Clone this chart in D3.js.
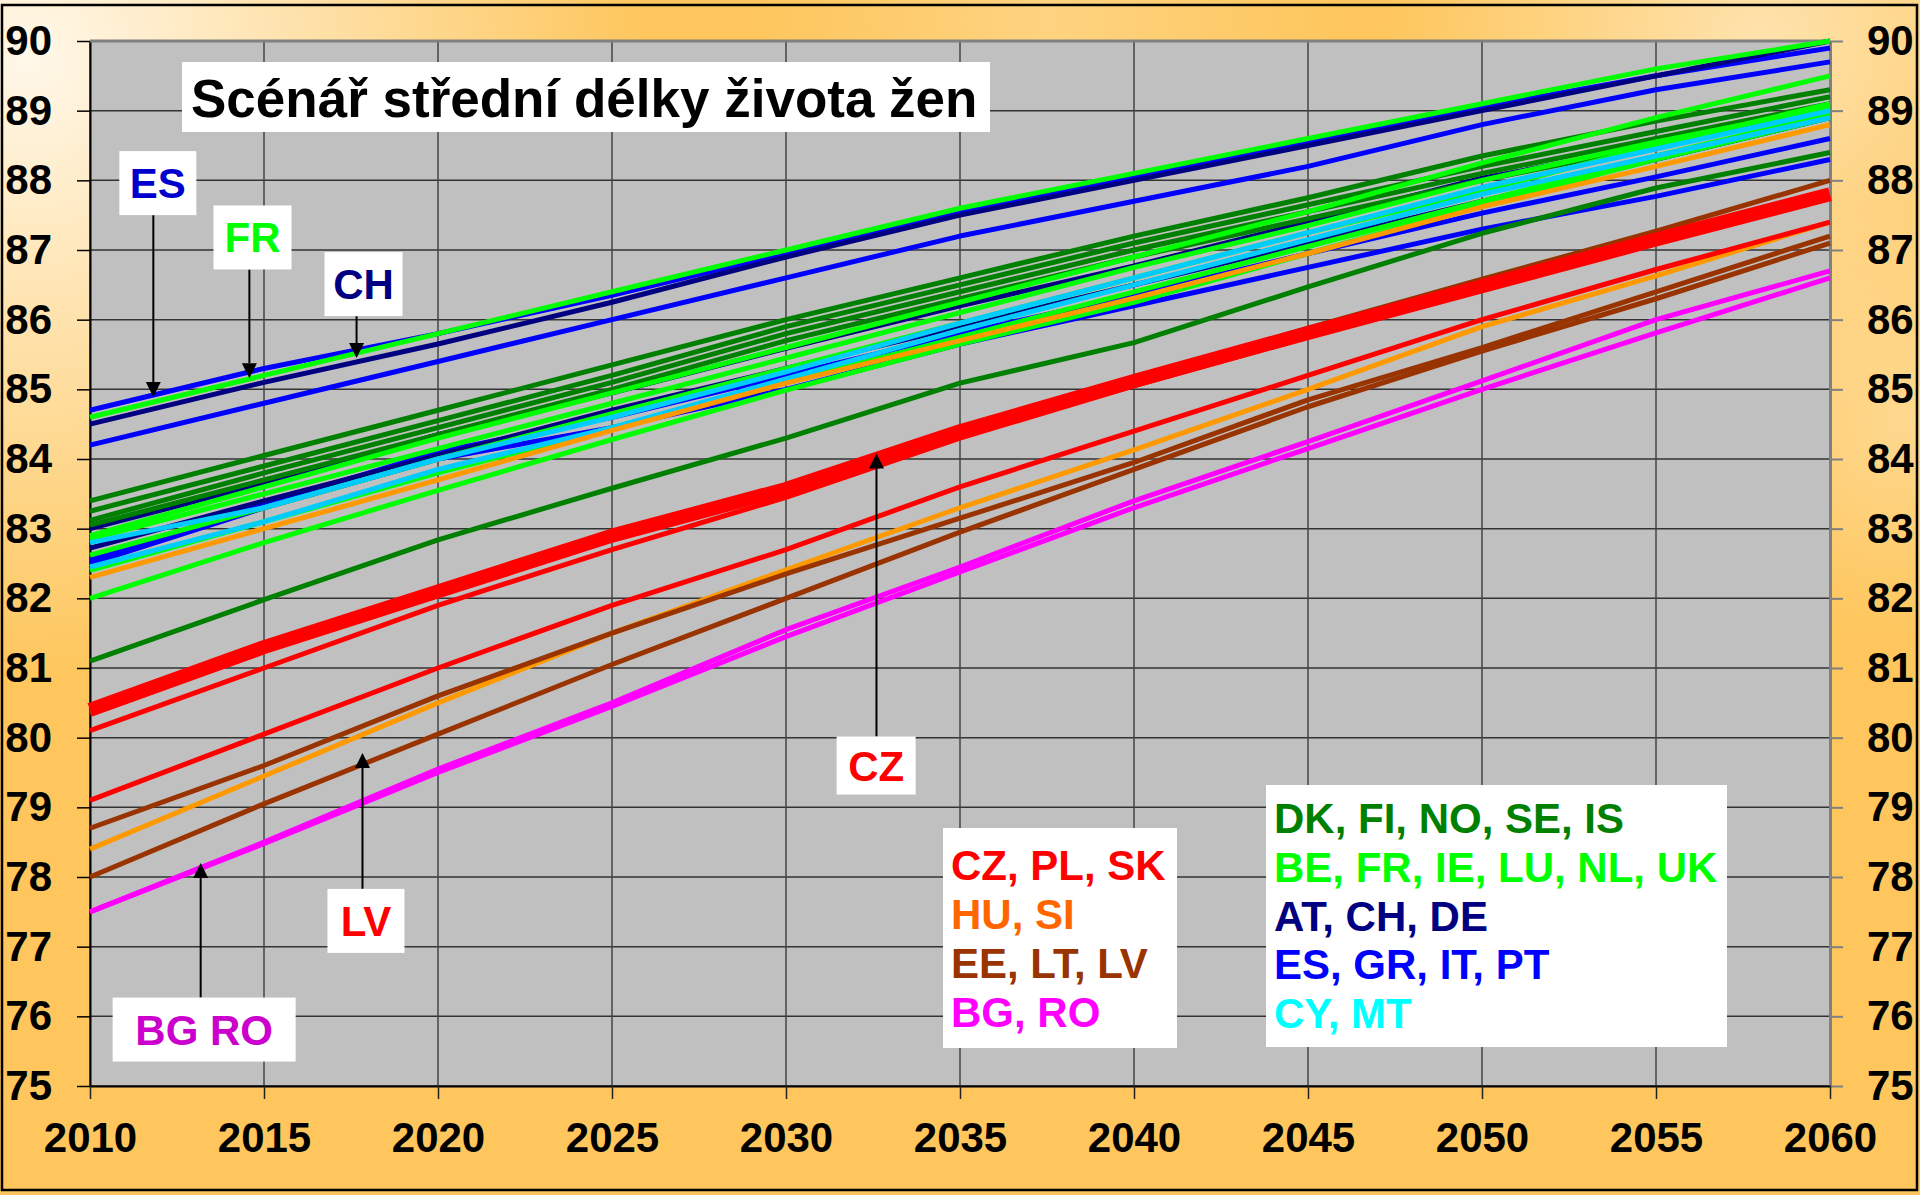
<!DOCTYPE html>
<html>
<head>
<meta charset="utf-8">
<script src="https://cdn.jsdelivr.net/npm/d3@7"></script>
<style>
    body { margin: 0; background: #fec860; }
    svg { display: block; }
    text { font-family: "Liberation Sans", Arial, sans-serif; font-weight: bold; }
</style>
</head>
<body>
<svg id="chartNode"></svg>
<script>

const years = [2010, 2015, 2020, 2025, 2030, 2035, 2040, 2045, 2050, 2055, 2060];

// DK, FI, NO, SE, IS
const nordic = [
    [83.4, 84.05, 84.7, 85.35, 86.0, 86.6, 87.2, 87.75, 88.35, 88.85, 89.3],
    [83.25, 83.9, 84.55, 85.2, 85.9, 86.5, 87.1, 87.65, 88.2, 88.7, 89.2],
    [83.12, 83.8, 84.45, 85.1, 85.8, 86.4, 87.0, 87.55, 88.1, 88.6, 89.1],
    [83.05, 83.7, 84.35, 85.0, 85.7, 86.3, 86.9, 87.45, 88.0, 88.5, 89.0],
    [81.1, 81.98, 82.84, 83.58, 84.3, 85.09, 85.67, 86.47, 87.24, 87.89, 88.4]
];
// BE, FR, IE, LU, NL, UK
const western = [
    [84.6, 85.2, 85.8, 86.4, 87.0, 87.6, 88.1, 88.6, 89.1, 89.6, 90.0],
    [82.9, 83.6, 84.3, 84.95, 85.6, 86.25, 86.9, 87.55, 88.25, 88.9, 89.5],
    [82.85, 83.5, 84.15, 84.8, 85.45, 86.1, 86.75, 87.35, 88.0, 88.55, 89.05],
    [82.62, 83.3, 84.0, 84.65, 85.3, 85.95, 86.6, 87.25, 87.85, 88.5, 89.1],
    [82.4, 83.1, 83.8, 84.45, 85.1, 85.75, 86.4, 87.05, 87.7, 88.35, 88.95],
    [82.0, 82.8, 83.55, 84.28, 84.99, 85.65, 86.25, 86.95, 87.65, 88.3, 88.9]
];
// AT, CH, DE
const alpine = [
    [84.5, 85.1, 85.65, 86.25, 86.9, 87.5, 88.0, 88.5, 89.0, 89.5, 90.0],
    [83.0, 83.65, 84.35, 84.95, 85.59, 86.2, 86.77, 87.4, 88.03, 88.5, 89.05],
    [82.72, 83.4, 84.05, 84.7, 85.3, 85.9, 86.5, 87.1, 87.7, 88.3, 88.9]
];
// ES, GR, IT, PT
const southern = [
    [84.7, 85.3, 85.8, 86.35, 86.95, 87.55, 88.05, 88.55, 89.05, 89.5, 89.9],
    [84.2, 84.8, 85.4, 86.0, 86.6, 87.2, 87.7, 88.2, 88.8, 89.3, 89.7],
    [82.55, 83.35, 84.1, 84.6, 85.2, 85.8, 86.35, 86.95, 87.53, 88.05, 88.6],
    [82.5, 83.3, 84.0, 84.45, 85.0, 85.65, 86.2, 86.75, 87.3, 87.77, 88.3]
];
// CY, MT
const islands = [
    [82.8, 83.3, 84.0, 84.6, 85.25, 85.95, 86.6, 87.25, 87.9, 88.45, 89.0],
    [82.45, 83.1, 83.85, 84.45, 85.15, 85.85, 86.5, 87.15, 87.8, 88.35, 88.9]
];
// HU, SI
const orangeGroup = [
    [82.3, 83.0, 83.7, 84.41, 85.09, 85.7, 86.31, 86.95, 87.62, 88.2, 88.8],
    [78.4, 79.45, 80.5, 81.5, 82.41, 83.3, 84.13, 85.0, 85.9, 86.63, 87.4]
];
// BG, RO
const bgro = [
    [77.5, 78.5, 79.55, 80.5, 81.55, 82.45, 83.4, 84.25, 85.12, 86.0, 86.7],
    [77.5, 78.48, 79.5, 80.45, 81.45, 82.38, 83.3, 84.15, 85.0, 85.81, 86.6]
];
// EE, LT, LV
const baltic = [
    [80.35, 81.25, 82.05, 82.85, 83.55, 84.4, 85.15, 85.88, 86.58, 87.27, 88.0],
    [78.7, 79.6, 80.6, 81.5, 82.35, 83.15, 83.95, 84.85, 85.6, 86.4, 87.2],
    [78.0, 79.05, 80.05, 81.05, 82.0, 82.95, 83.85, 84.75, 85.55, 86.3, 87.1]
];
// PL, SK (thin) and CZ (thick)
const visegrad = [
    [80.1, 81.0, 81.9, 82.7, 83.45, 84.3, 85.05, 85.75, 86.45, 87.1, 87.75],
    [79.1, 80.05, 81.0, 81.9, 82.7, 83.6, 84.4, 85.2, 86.0, 86.72, 87.4]
];
const czech = [80.4, 81.3, 82.1, 82.9, 83.57, 84.4, 85.12, 85.81, 86.48, 87.15, 87.8];

const yTicks = [75, 76, 77, 78, 79, 80, 81, 82, 83, 84, 85, 86, 87, 88, 89, 90];

// draw order: later groups on top
let groups = [
    { rows: southern, color: '#0000ff', w: 5 },
    { rows: alpine, color: '#000080', w: 5 },
    { rows: nordic, color: '#008000', w: 5 },
    { rows: western, color: '#00ff00', w: 5 },
    { rows: islands, color: '#00ccff', w: 5 },
    { rows: orangeGroup, color: '#ff9900', w: 5 },
    { rows: bgro, color: '#ff00ff', w: 5 },
    { rows: baltic, color: '#993300', w: 5 },
    { rows: visegrad, color: '#ff0000', w: 5 },
    { rows: [czech], color: '#ff0000', w: 14 }
];

const callouts = [
    { text: 'ES', color: '#0000cc', year: 2011.95, value: 87.96, bw: 77, bh: 64, arrowYear: 2011.82, tip: 84.89 },
    { text: 'FR', color: '#00ff00', year: 2014.67, value: 87.18, bw: 78, bh: 64, arrowYear: 2014.58, tip: 85.16 },
    { text: 'CH', color: '#000080', year: 2017.86, value: 86.51, bw: 78, bh: 64, arrowYear: 2017.66, tip: 85.45 },
    { text: 'CZ', color: '#ff0000', year: 2032.59, value: 79.6, bw: 79, bh: 58, arrowYear: 2032.6, tip: 84.08 },
    { text: 'LV', color: '#ff0000', year: 2017.93, value: 77.37, bw: 77, bh: 64, arrowYear: 2017.83, tip: 79.78 },
    { text: 'BG RO', color: '#cc00cc', year: 2013.28, value: 75.81, bw: 183, bh: 64, arrowYear: 2013.18, tip: 78.2 }
];

const legendLeft = [['CZ, PL, SK', '#ff0000'], ['HU, SI', '#ff6600'], ['EE, LT, LV', '#993300'], ['BG, RO', '#ff00ff']];
const legendRight = [['DK, FI, NO, SE, IS', '#008000'], ['BE, FR, IE, LU, NL, UK', '#00ff00'],
    ['AT, CH, DE', '#000080'], ['ES, GR, IT, PT', '#0000ff'], ['CY, MT', '#00ffff']];

let width = 1920, height = 1195;
let plot = { left: 90, right: 1830, top: 41, bottom: 1086 };

var svg = d3.select('#chartNode')
    .attr('width', width)
    .attr('height', height);

// orange background with light glows
let defs = svg.append('defs');
function glow(id, cx, cy, r, op) {
    let g = defs.append('radialGradient').attr('id', id)
        .attr('gradientUnits', 'userSpaceOnUse')
        .attr('cx', cx).attr('cy', cy).attr('r', r);
    g.append('stop').attr('offset', '0%').attr('stop-color', '#fffaf0').attr('stop-opacity', op);
    g.append('stop').attr('offset', '100%').attr('stop-color', '#fffaf0').attr('stop-opacity', 0);
}
glow('g1', 30, 60, 620, 0.95);
glow('g2', 1760, 40, 380, 0.55);
glow('g3', 1900, 420, 220, 0.35);
glow('g4', 1050, 20, 300, 0.25);

svg.append('rect').attr('width', width).attr('height', height).attr('fill', '#fec65c');
['g1', 'g2', 'g3', 'g4'].forEach(function (id) {
    svg.append('rect').attr('width', width).attr('height', height).attr('fill', `url(#${id})`);
});

svg.append('rect')
    .attr('x', 2).attr('y', 5).attr('width', 1915).attr('height', 1185)
    .attr('fill', 'none').attr('stroke', '#000').attr('stroke-width', 2.5);

// scales
let x = d3.scaleLinear().domain([2010, 2060]).range([plot.left, plot.right]);
let y = d3.scaleLinear().domain([75, 90]).range([plot.bottom, plot.top]);

svg.append('rect')
    .attr('x', plot.left).attr('y', plot.top)
    .attr('width', plot.right - plot.left).attr('height', plot.bottom - plot.top)
    .attr('fill', '#c0c0c0');

// grid
svg.append('g').selectAll('line')
    .data(yTicks).enter().append('line')
    .attr('x1', plot.left).attr('x2', plot.right)
    .attr('y1', d => y(d)).attr('y2', d => y(d))
    .attr('stroke', '#333').attr('stroke-width', 1.5);

svg.append('g').selectAll('line')
    .data(years).enter().append('line')
    .attr('y1', plot.top).attr('y2', plot.bottom)
    .attr('x1', d => x(d)).attr('x2', d => x(d))
    .attr('stroke', '#444').attr('stroke-width', 1.5);

// axes
let fmt = d3.format('d');

let leftAxis = svg.append('g')
    .attr('transform', `translate(${plot.left},0)`)
    .call(d3.axisLeft(y).tickValues(yTicks).tickSize(13).tickSizeOuter(0).tickPadding(25).tickFormat(fmt));

let rightAxis = svg.append('g')
    .attr('transform', `translate(${plot.right},0)`)
    .call(d3.axisRight(y).tickValues(yTicks).tickSize(13).tickSizeOuter(0).tickPadding(24).tickFormat(fmt));

let bottomAxis = svg.append('g')
    .attr('transform', `translate(0,${plot.bottom})`)
    .call(d3.axisBottom(x).tickValues(years).tickSize(13).tickSizeOuter(0).tickPadding(23).tickFormat(fmt));

[leftAxis, rightAxis, bottomAxis].forEach(function (ax) {
    ax.selectAll('text').style('font-size', '42px').style('fill', '#000')
        .style('font-family', '"Liberation Sans", Arial, sans-serif').style('font-weight', 'bold');
});
leftAxis.select('.domain').attr('stroke', '#000').attr('stroke-width', 2);
leftAxis.selectAll('.tick line').attr('stroke', '#000').attr('stroke-width', 1.5);
bottomAxis.select('.domain').attr('stroke', '#000').attr('stroke-width', 2);
bottomAxis.selectAll('.tick line').attr('stroke', '#222').attr('stroke-width', 1.5);
rightAxis.select('.domain').attr('stroke', '#808080').attr('stroke-width', 3);
rightAxis.selectAll('.tick line').attr('stroke', '#808080').attr('stroke-width', 2);

svg.append('line')
    .attr('x1', plot.left).attr('x2', plot.right)
    .attr('y1', plot.top).attr('y2', plot.top)
    .attr('stroke', '#808080').attr('stroke-width', 3);

// the lines
let line = d3.line()
    .x((d, i) => x(years[i]))
    .y(d => y(d));

let lineLayer = svg.append('g');
groups.forEach(function (grp) {
    lineLayer.append('g').selectAll('path')
        .data(grp.rows).enter().append('path')
        .attr('d', line)
        .attr('fill', 'none')
        .attr('stroke', grp.color)
        .attr('stroke-width', grp.w)
        .attr('stroke-linejoin', 'round');
});

// callout labels with arrows
let callLayer = svg.append('g');
callouts.forEach(function (c) {
    let cx = x(c.year), cy = y(c.value);
    let ax = x(c.arrowYear), tipY = y(c.tip);
    let up = c.tip > c.value;
    let startY = up ? cy - c.bh / 2 : cy + c.bh / 2;
    let headY = up ? tipY + 15 : tipY - 15;

    callLayer.append('line')
        .attr('x1', ax).attr('x2', ax)
        .attr('y1', startY).attr('y2', headY)
        .attr('stroke', '#000').attr('stroke-width', 2);
    callLayer.append('path')
        .attr('d', `M${ax},${tipY}L${ax - 7.5},${headY}L${ax + 7.5},${headY}Z`)
        .attr('fill', '#000');

    callLayer.append('rect')
        .attr('x', cx - c.bw / 2).attr('y', cy - c.bh / 2)
        .attr('width', c.bw).attr('height', c.bh)
        .attr('fill', '#fff');
    callLayer.append('text')
        .attr('x', cx).attr('y', cy + 15)
        .attr('text-anchor', 'middle')
        .style('font-size', '42px')
        .style('fill', c.color)
        .text(c.text);
});

// title
svg.append('rect')
    .attr('x', 182).attr('y', 62).attr('width', 808).attr('height', 70)
    .attr('fill', '#fff');
svg.append('text')
    .attr('x', 191).attr('y', 117)
    .style('font-size', '53px')
    .style('fill', '#000')
    .text('Scénář střední délky života žen');

// legend boxes
function legendBox(items, bx, by, bw, bh, tx, firstBase, step) {
    let g = svg.append('g');
    g.append('rect').attr('x', bx).attr('y', by).attr('width', bw).attr('height', bh).attr('fill', '#fff');
    g.selectAll('text')
        .data(items).enter().append('text')
        .attr('x', tx)
        .attr('y', (d, i) => firstBase + i * step)
        .style('font-size', '42px')
        .style('fill', d => d[1])
        .text(d => d[0]);
}
legendBox(legendLeft, 943, 828, 234, 220, 951, 880, 49);
legendBox(legendRight, 1266, 785, 461, 262, 1274, 833, 48.8);

</script>
</body>
</html>
